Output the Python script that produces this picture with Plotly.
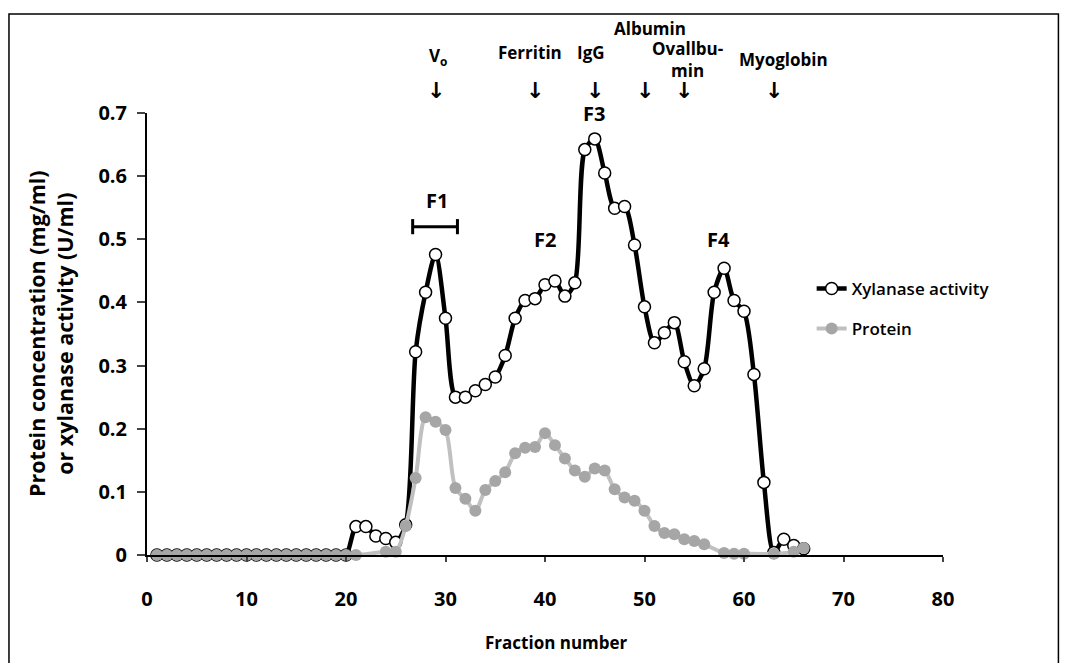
import plotly.graph_objects as go

fractions = list(range(1, 67))

xylanase = [0]*20 + [
    0.045, 0.045, 0.030, 0.026, 0.020, 0.048, 0.322, 0.416, 0.476, 0.375,
    0.250, 0.250, 0.260, 0.270, 0.282, 0.316, 0.375, 0.403, 0.406, 0.428,
    0.434, 0.410, 0.431, 0.642, 0.659, 0.605, 0.549, 0.552, 0.491, 0.393,
    0.336, 0.352, 0.368, 0.306, 0.268, 0.295, 0.416, 0.454, 0.403, 0.386,
    0.286, 0.115, 0.004, 0.025, 0.015, 0.010]

protein = [0]*21 + [
    None, None, 0.005, 0.005, 0.046, 0.122, 0.218, 0.211, 0.198,
    0.106, 0.089, 0.070, 0.103, 0.117, 0.131, 0.161, 0.170, 0.171, 0.193,
    0.174, 0.153, 0.134, 0.124, 0.137, 0.134, 0.104, 0.091, 0.086, 0.070,
    0.046, 0.035, 0.033, 0.025, 0.022, 0.017, None, 0.003, 0.002, 0.002,
    None, None, 0.002, None, 0.005, 0.011]

x_ticks = [0, 10, 20, 30, 40, 50, 60, 70, 80]
y_ticks = [0, 0.1, 0.2, 0.3, 0.4, 0.5, 0.6, 0.7]
y_tick_text = ["0", "0.1", "0.2", "0.3", "0.4", "0.5", "0.6", "0.7"]

# (label, arrow fraction, label x, label y in paper units)
markers = [("V<sub>o</sub>", 29, 29.2, 1.127),
           ("Ferritin", 39, 38.5, 1.136),
           ("IgG", 45, 44.6, 1.136),
           ("Albumin", 50, 50.6, 1.192),
           ("Ovallbu-<br>min", 54, 54.3, 1.122),
           ("Myoglobin", 63, 64.0, 1.122)]

peaks = [("F1", 29.1, 0.561), ("F2", 40.0, 0.500), ("F3", 44.9, 0.699), ("F4", 57.4, 0.500)]

FONT = "Open Sans"

fig = go.Figure()
fig.add_trace(go.Scatter(
    x=fractions, y=xylanase, name="Xylanase activity", mode="lines+markers", showlegend=True,
    line=dict(color="black", width=4.5, shape="spline", smoothing=0.8),
    marker=dict(symbol="circle", size=12, color="white", line=dict(color="black", width=1.5)),
    cliponaxis=False, legend="legend"))
fig.add_trace(go.Scatter(
    x=fractions, y=protein, name="Protein", mode="lines+markers", connectgaps=True, showlegend=True,
    line=dict(color="#c0c0c0", width=4, shape="spline", smoothing=0.8),
    marker=dict(symbol="circle", size=12, color="#a6a6a6"),
    cliponaxis=False, legend="legend2"))

ann = []
for label, xa, xl, yl in markers:
    ann.append(dict(x=xl, y=yl, xref="x", yref="paper", xanchor="center", yanchor="middle",
                    text="<b>%s</b>" % label, showarrow=False,
                    font=dict(family=FONT, size=17, color="black")))
    ann.append(dict(x=xa, y=1.050, xref="x", yref="paper", xanchor="center", yanchor="middle",
                    text="<b>↓</b>", showarrow=False,
                    font=dict(family="DejaVu Sans", size=22, color="black")))
for label, xl, yl in peaks:
    ann.append(dict(x=xl, y=yl, xref="x", yref="y", xanchor="center", yanchor="middle",
                    text="<b>%s</b>" % label, showarrow=False,
                    font=dict(family=FONT, size=20, color="black")))
ann.append(dict(x=-0.122, y=0.502, xref="paper", yref="paper", textangle=-90,
                xanchor="center", yanchor="middle",
                text="<b>Protein concentration (mg/ml)<br>or xylanase activity (U/ml)</b>",
                showarrow=False, font=dict(family=FONT, size=21.5, color="black")))
ann.append(dict(x=0.514, y=-0.199, xref="paper", yref="paper", xanchor="center", yanchor="middle",
                text="<b>Fraction number</b>",
                showarrow=False, font=dict(family=FONT, size=17, color="black")))

shapes = [
    dict(type="line", xref="x", yref="y", x0=26.7, x1=31.2, y0=0.52, y1=0.52, line=dict(color="black", width=3)),
    dict(type="line", xref="x", yref="y", x0=26.7, x1=26.7, y0=0.508, y1=0.532, line=dict(color="black", width=3)),
    dict(type="line", xref="x", yref="y", x0=31.2, x1=31.2, y0=0.508, y1=0.532, line=dict(color="black", width=3)),
    dict(type="rect", xref="paper", yref="paper", x0=-0.1734, x1=1.145, y0=-0.3, y1=1.224,
         line=dict(color="black", width=1.5)),
]

fig.update_layout(
    width=1052, height=655,
    margin=dict(l=139, r=117, t=105, b=108),
    paper_bgcolor="white", plot_bgcolor="white",
    font=dict(family=FONT, color="black"),
    showlegend=True,
    annotations=ann, shapes=shapes,
    legend=dict(x=0.835, y=1 - (289 - 113) / 442, xref="paper", yref="paper", yanchor="middle", xanchor="left",
                bgcolor="rgba(0,0,0,0)", font=dict(family=FONT, size=17, color="black", weight=600)),
    legend2=dict(x=0.835, y=1 - (329 - 113) / 442, xref="paper", yref="paper", yanchor="middle", xanchor="left",
                 bgcolor="rgba(0,0,0,0)", font=dict(family=FONT, size=17, color="black", weight=600)),
)

fig.update_xaxes(range=[0, 80], tickvals=x_ticks, ticks="outside", ticklen=5, tickwidth=2,
                 showline=True, linecolor="black", linewidth=2, showgrid=False, zeroline=False,
                 ticklabelstandoff=20,
                 tickfont=dict(family=FONT, size=20, color="black", weight="bold"))
fig.update_yaxes(range=[0, 0.7], tickvals=y_ticks, ticktext=y_tick_text, ticks="outside", ticklen=8,
                 tickwidth=2, showline=True, linecolor="black", linewidth=2, showgrid=False, zeroline=False,
                 ticklabelstandoff=6,
                 tickfont=dict(family=FONT, size=20, color="black", weight="bold"))

fig.write_html("out.html")
